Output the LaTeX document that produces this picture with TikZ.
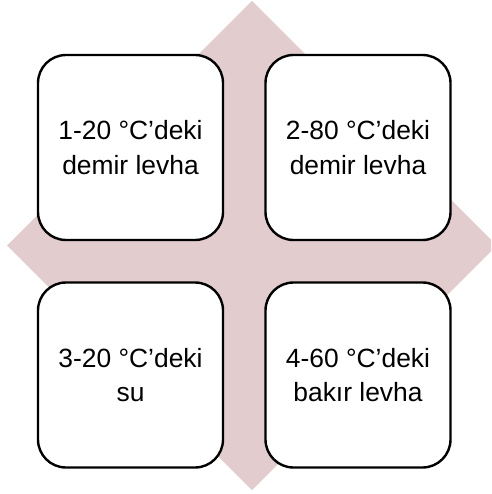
\documentclass[tikz,border=0pt]{standalone}
\usepackage{fontspec}
\setmainfont{Liberation Sans}
\definecolor{rosegray}{RGB}{226,204,206}

\begin{document}
\begin{tikzpicture}[x=1pt,y=1pt]
\tikzstyle{every node}+=[inner sep=0pt]
\tikzstyle{plate}=[draw=black, fill=white, line width=2.4pt, rounded corners=28pt, minimum width=185pt, minimum height=185pt, align=center, font=\fontsize{26.4}{34.4}\selectfont]
\useasboundingbox (0,0) rectangle (491,-494);
\clip (0,0) rectangle (491,-494);
\fill [rosegray] (252,-1) -- (497,-245.5) -- (252,-490) -- (7,-245.5) -- cycle;
\node [plate] (Q1) at (130.5,-147.5) {1-20 °C’deki\\demir levha};
\node [plate] (Q2) at (358,-147.5) {2-80 °C’deki\\demir levha};
\node [plate] (Q3) at (130.5,-375) {3-20 °C’deki\\su};
\node [plate] (Q4) at (358,-375) {4-60 °C’deki\\bakır levha};
\end{tikzpicture}
\end{document}
